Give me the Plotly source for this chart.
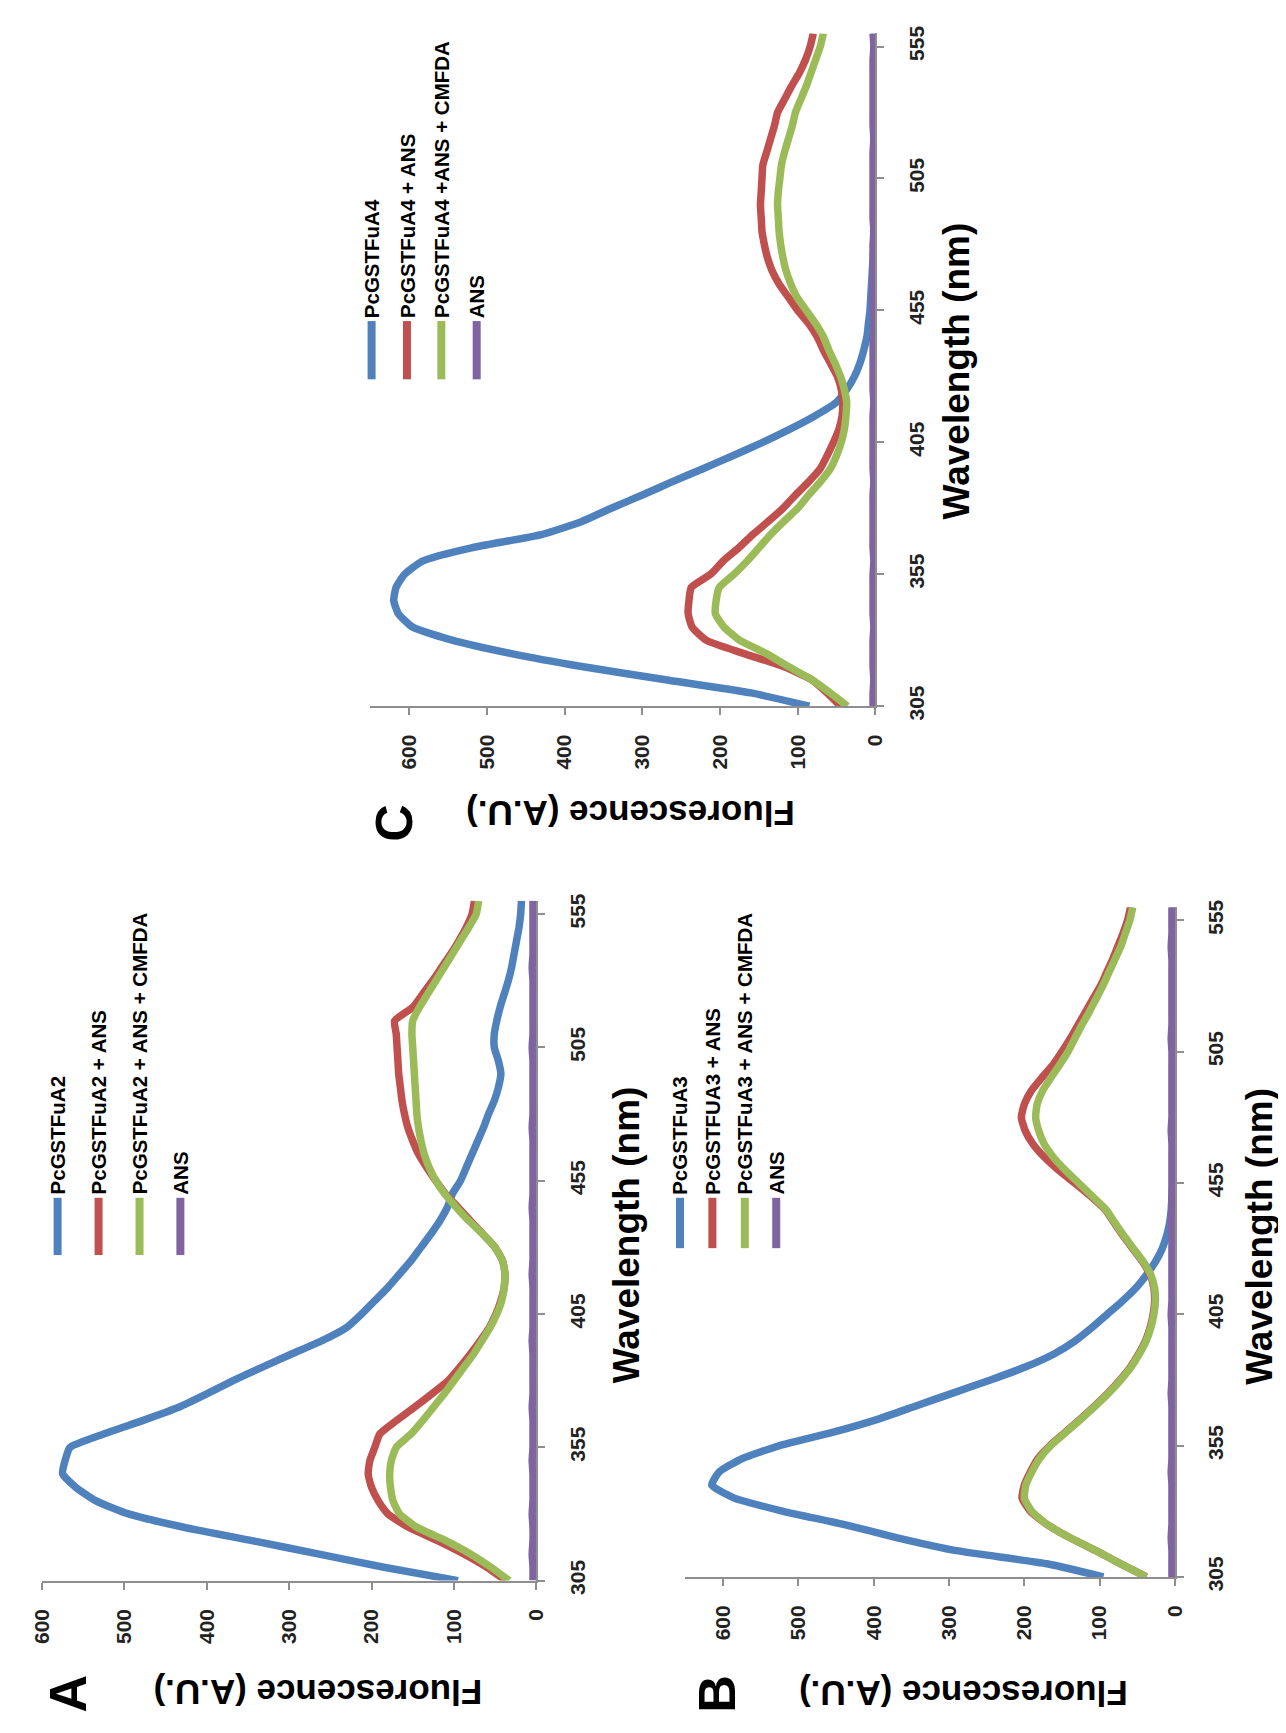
import plotly.graph_objects as go

W, H = 1286, 1733

# ---------------- data ----------------
WAVELENGTH = [305, 310, 315, 320, 325, 330, 335, 340, 345, 350, 355, 360, 365,
              370, 375, 380, 385, 390, 395, 400, 405, 410, 415, 420, 425, 430,
              435, 440, 445, 450, 455, 460, 465, 470, 475, 480, 485, 490, 495,
              500, 505, 510, 515, 520, 525, 530, 535, 540, 545, 550, 555, 560]

WL_TICKS = [305, 355, 405, 455, 505, 555]

# Panel A
A_PROT = [95, 185, 265, 345, 428, 495, 535, 559, 575, 572, 566, 525, 478, 434,
          400, 368, 333, 297, 260, 230, 212, 196, 180, 166, 152, 140, 128, 117,
          108, 102, 92, 85, 78, 71, 64, 58, 51, 46, 43, 46, 51, 51, 48, 44, 39,
          34, 30, 27, 24, 21, 19, 18]
A_ANS = [37, 60, 88, 120, 155, 180, 192, 200, 204, 202, 196, 190, 170, 148,
         127, 107, 93, 80, 68, 57, 49, 43, 39, 38, 41, 50, 65, 80, 95, 110,
         122, 133, 143, 150, 156, 160, 163, 165, 167, 168, 169, 170, 172, 150,
         138, 126, 115, 104, 94, 85, 78, 75]
A_CMFDA = [33, 55, 80, 110, 145, 166, 174, 177, 178, 176, 170, 152, 138, 125,
           112, 100, 88, 76, 66, 56, 48, 42, 39, 38, 41, 50, 65, 82, 97, 111,
           122, 130, 136, 140, 143, 145, 146, 147, 148, 149, 150, 151, 150, 142,
           132, 122, 112, 102, 92, 82, 73, 70]
A_DYE = [4, 4, 5, 4, 4, 5, 4, 4, 4, 5, 4, 4, 4, 5, 4, 4, 4, 4, 5, 4, 4, 4, 4,
         5, 4, 4, 4, 4, 5, 4, 4, 4, 4, 4, 5, 4, 4, 4, 4, 4, 5, 4, 4, 4, 4, 4,
         5, 4, 4, 4, 4, 4]

# Panel B
B_PROT = [95, 170, 290, 370, 440, 520, 585, 615, 605, 575, 525, 455, 395, 345,
          295, 245, 198, 160, 132, 110, 90, 70, 52, 38, 26, 17, 11, 7, 5, 4, 3,
          2, 2, 2, 2, 2, 2, 2, 2, 2, 2, 2, 2, 2, 2, 2, 2, 2, 2, 2, 2, 2]
B_ANS = [38, 72, 105, 140, 170, 192, 203, 200, 192, 182, 166, 146, 126, 107,
         89, 73, 59, 48, 39, 33, 29, 27, 28, 33, 43, 56, 69, 81, 93, 112, 133,
         155, 174, 189, 199, 204, 200, 191, 177, 162, 150, 139, 129, 119, 109,
         99, 91, 83, 76, 69, 63, 59]
B_CMFDA = [38, 72, 105, 140, 170, 190, 200, 198, 190, 180, 165, 145, 125, 106,
           88, 72, 58, 47, 38, 32, 28, 26, 27, 32, 42, 55, 68, 80, 92, 110, 128,
           146, 162, 174, 181, 185, 183, 176, 165, 153, 142, 133, 124, 114, 105,
           96, 88, 80, 72, 66, 60, 56]
B_DYE = [4, 4, 4, 5, 4, 4, 4, 4, 5, 4, 4, 4, 4, 4, 5, 4, 4, 4, 4, 4, 5, 4, 4,
         4, 4, 4, 4, 5, 4, 4, 4, 4, 4, 4, 5, 4, 4, 4, 4, 4, 4, 5, 4, 4, 4, 4,
         4, 4, 5, 4, 4, 4]

# Panel C
C_PROT = [85, 160, 270, 378, 470, 545, 596, 614, 620, 617, 606, 583, 520, 430,
          378, 340, 300, 262, 222, 183, 145, 110, 78, 51, 37, 27, 20, 15, 11, 9,
          7, 6, 5, 4, 3, 2, 2, 2, 2, 2, 2, 2, 2, 2, 2, 2, 2, 2, 2, 2, 2, 2]
C_ANS = [45, 62, 82, 118, 170, 218, 236, 241, 240, 237, 212, 196, 176, 158,
         138, 119, 103, 86, 71, 62, 54, 47, 43, 42, 44, 49, 58, 67, 75, 86,
         100, 112, 124, 133, 139, 143, 146, 147, 148, 147, 146, 145, 140, 135,
         130, 126, 117, 108, 98, 90, 84, 80]
C_CMFDA = [36, 58, 82, 112, 141, 175, 195, 206, 205, 201, 182, 165, 150, 135,
           118, 100, 86, 71, 58, 50, 44, 40, 38, 37, 40, 45, 52, 60, 67, 77, 89,
           101, 109, 115, 119, 122, 124, 125, 126, 125, 123, 121, 117, 112, 107,
           103, 96, 89, 83, 77, 71, 67]
C_DYE = [3, 3, 2, 3, 3, 3, 2, 3, 3, 3, 3, 2, 3, 3, 3, 3, 3, 2, 3, 3, 3, 3, 3,
         2, 3, 3, 3, 3, 3, 2, 3, 3, 3, 3, 3, 3, 2, 3, 3, 3, 3, 3, 3, 2, 3, 3,
         3, 3, 3, 3, 2, 3]

LABELS_A = ["PcGSTFuA2", "PcGSTFuA2 + ANS", "PcGSTFuA2 + ANS + CMFDA", "ANS"]
LABELS_B = ["PcGSTFuA3", "PcGSTFUA3 + ANS", "PcGSTFuA3 + ANS + CMFDA", "ANS"]
LABELS_C = ["PcGSTFuA4", "PcGSTFuA4 + ANS", "PcGSTFuA4 +ANS + CMFDA", "ANS"]

COLORS = ["#4F81BD", "#C0504D", "#9BBB59", "#8064A2"]
FONT = "Liberation Sans, Arial, sans-serif"


def px(x):
    return x / W


def py(y):
    return 1 - y / H


# pixel geometry of each panel (left x = fmax, right x = 0, bottom y = 305, top y = 560)
PANELS = [
    dict(letter="A", series=[A_PROT, A_ANS, A_CMFDA, A_DYE], labels=LABELS_A,
         xl=22.4, xr=525.7, yb=1584.7, yt=896.2, fmax=600,
         ftick=[0, 100, 200, 300, 400, 500, 600],
         letter_xy=(49, 1699), ftitle_xy=(303, 1698), wtitle_xy=(617, 1234),
         leg_x=[38.3, 80, 121.7, 163.3], leg_y=(1197, 1255)),
    dict(letter="B", series=[B_PROT, B_ANS, B_CMFDA, B_DYE], labels=LABELS_B,
         xl=677.5, xr=1176, yb=1581, yt=902.7, fmax=650,
         ftick=[0, 100, 200, 300, 400, 500, 600],
         letter_xy=(710, 1699), ftitle_xy=(960, 1699), wtitle_xy=(1262, 1236),
         leg_x=[672, 705, 738, 770], leg_y=(1197, 1248)),
    dict(letter="C", series=[C_PROT, C_ANS, C_CMFDA, C_DYE], labels=LABELS_C,
         xl=356.8, xr=871, yb=699, yt=17.6, fmax=650,
         ftick=[0, 100, 200, 300, 400, 500, 600],
         letter_xy=(380, 817), ftitle_xy=(621, 808), wtitle_xy=(953, 359),
         leg_x=[358, 394, 429, 465], leg_y=(309, 368)),
]

fig = go.Figure()
annotations = []
shapes = []
layout_axes = {}

for i, p in enumerate(PANELS, start=1):
    xa = "x" if i == 1 else f"x{i}"
    ya = "y" if i == 1 else f"y{i}"
    for s, (vals, col) in enumerate(zip(p["series"], COLORS)):
        fig.add_trace(go.Scatter(
            x=vals, y=WAVELENGTH, mode="lines", xaxis=xa, yaxis=ya,
            line=dict(color=col, width=7.5, shape="spline", smoothing=0.5),
            name=p["labels"][s], showlegend=False, hoverinfo="skip"))

    xkey = "xaxis" if i == 1 else f"xaxis{i}"
    ykey = "yaxis" if i == 1 else f"yaxis{i}"
    layout_axes[xkey] = dict(
        domain=[px(p["xl"]), px(p["xr"])], range=[p["fmax"], 0], anchor=ya,
        showline=True, linecolor="#8E8E8E", linewidth=2, showgrid=False,
        zeroline=False, ticks="outside", ticklen=7, tickwidth=1.5,
        tickcolor="#8E8E8E", tickvals=p["ftick"],
        ticktext=[str(v) for v in p["ftick"]], tickangle=-90,
        tickfont=dict(family=FONT, size=21, color="#222222", weight="bold"),
        ticklabelstandoff=11, fixedrange=True)
    layout_axes[ykey] = dict(
        domain=[py(p["yb"]), py(p["yt"])], range=[305, 560], anchor=xa,
        side="right", showline=True, linecolor="#8E8E8E", linewidth=2,
        showgrid=False, zeroline=False, ticks="outside", ticklen=7,
        tickwidth=1.5, tickcolor="#8E8E8E", tickvals=WL_TICKS,
        ticktext=[str(v) for v in WL_TICKS], tickangle=-90,
        tickfont=dict(family=FONT, size=21, color="#222222", weight="bold"),
        ticklabelstandoff=14, fixedrange=True)

    # panel letter
    annotations.append(dict(
        x=px(p["letter_xy"][0]), y=py(p["letter_xy"][1]), xref="paper",
        yref="paper", text=p["letter"], showarrow=False, textangle=-90,
        xanchor="center", yanchor="middle",
        font=dict(family=FONT, size=52, color="#000000", weight="bold")))
    # fluorescence title (upside down)
    annotations.append(dict(
        x=px(p["ftitle_xy"][0]), y=py(p["ftitle_xy"][1]), xref="paper",
        yref="paper", text="Fluorescence (A.U.)", showarrow=False,
        textangle=180, xanchor="center", yanchor="middle",
        font=dict(family=FONT, size=35, color="#000000", weight="bold")))
    # wavelength title
    annotations.append(dict(
        x=px(p["wtitle_xy"][0]), y=py(p["wtitle_xy"][1]), xref="paper",
        yref="paper", text="Wavelength (nm)", showarrow=False,
        textangle=-90, xanchor="center", yanchor="middle",
        font=dict(family=FONT, size=37, color="#000000", weight="bold")))
    # legend
    ly0, ly1 = p["leg_y"]
    for lx, lab, col in zip(p["leg_x"], p["labels"], COLORS):
        shapes.append(dict(
            type="line", xref="paper", yref="paper", x0=px(lx), x1=px(lx),
            y0=py(ly0), y1=py(ly1), line=dict(color=col, width=8)))
        annotations.append(dict(
            x=px(lx), y=py(ly0 - 1), xref="paper", yref="paper", text=lab,
            showarrow=False, textangle=-90, xanchor="center",
            yanchor="bottom",
            font=dict(family=FONT, size=20.5, color="#000000",
                      weight="bold")))

fig.update_layout(
    width=W, height=H, margin=dict(l=0, r=0, t=0, b=0),
    paper_bgcolor="white", plot_bgcolor="white",
    annotations=annotations, shapes=shapes, showlegend=False,
    **layout_axes)

fig.write_html("out.html")
